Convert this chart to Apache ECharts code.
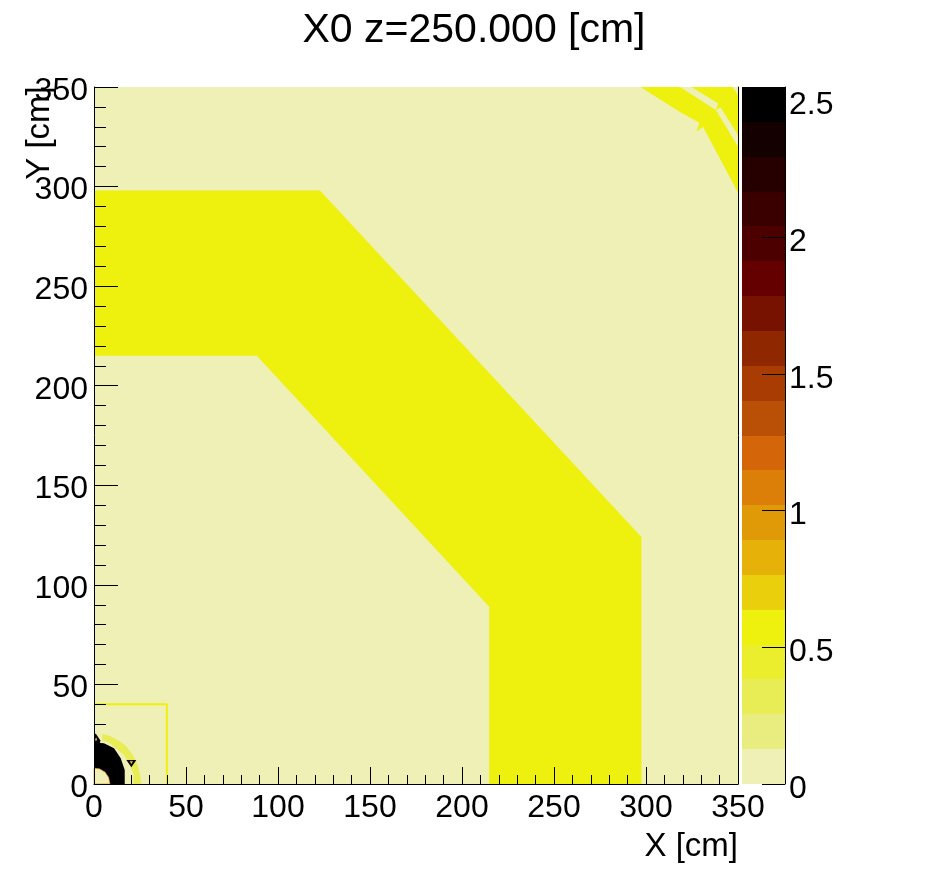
<!DOCTYPE html>
<html>
<head>
<meta charset="utf-8">
<style>html,body{margin:0;padding:0;background:#fff}#c{width:946px;height:872px}</style>
<script src="https://cdn.jsdelivr.net/npm/echarts@6/dist/echarts.min.js"></script>
</head>
<body>
<div id="c"></div>
<script>
var titleText = 'X0 z=250.000 [cm]';
var xTitle = 'X [cm]';
var yTitle = 'Y [cm]';
var paletteTicks = [0, 0.5, 1, 1.5, 2, 2.5];
var paletteEdges = [0, 0.1275, 0.255, 0.3825, 0.51, 0.6375, 0.765, 0.8925, 1.02, 1.1475, 1.275, 1.4025, 1.53, 1.6575, 1.785, 1.9125, 2.04, 2.1675, 2.295, 2.4225, 2.55];
var paletteColors = ['#EEF0B5', '#E9ED80', '#E8EC55', '#EBEE2C', '#EEF00E', '#EAD00C', '#E6B20A', '#E09A08', '#DB7F08', '#D46508', '#BA5006', '#A93C02', '#8F2800', '#771200', '#640000', '#4D0000', '#3A0000', '#260000', '#150000', '#000000'];

var background = [[0,0],[350,0],[350,350],[0,350]];
var mainBand = [[0,298],[122.8,298],[297.5,124],[297.5,0],[214.8,0],[214.8,89],[88.5,215],[0,215]];
var cornerBand = [[297,350],[318.5,337.5],[329,332],[327.5,327.5],[331,330],[350,297],[350,350]];
var cornerGapA = [[318.5,350],[324.8,350],[339.3,341.7],[337.9,338.4]];
var cornerGapB = [[338,338.4],[340.6,339.7],[350,325.8],[350,320]];
var cornerGapC = [[347,350],[350,350],[350,346]];
var ringYellow = [[4.5,25.2],[9,24],[13,22],[17,19.5],[20.8,15],[23.5,10],[25,5],[25.7,0],[21.4,0],[21.4,5.4],[19,10.4],[16.3,14.6],[8,21],[4.5,22]];
var coreBlack = [[0,0],[16.7,0],[16.7,7],[14.5,12.9],[10.9,17.9],[5.4,20.4],[0,20.8]];
var coreHole = [[0,0],[8.7,0],[8,3.3],[6,6],[3,7.6],[0,8]];
var blobBlack = [[0,20.6],[3.3,20.6],[3.4,22],[1,25.2],[0,25.2]];
var blobHole = [[0.5,22],[1.6,22],[1.2,23.2]];
var triBlack = [[17.6,12.1],[23,12.1],[20.3,8.4]];
var triHole = [[19.6,11.4],[21,11.4],[20.3,10.2]];
var squareLine = [[0,40],[39.6,40],[39.6,0]];

var regions = [
  {pts: background, level: 0},
  {pts: mainBand, level: 4},
  {pts: cornerBand, level: 4},
  {pts: cornerGapA, level: 0},
  {pts: cornerGapB, level: 0},
  {pts: cornerGapC, level: 0},
  {pts: ringYellow, level: 2},
  {pts: coreBlack, level: 19},
  {pts: coreHole, level: 0, rim: 8},
  {pts: blobBlack, level: 19},
  {pts: blobHole, level: 0, rim: 8},
  {pts: triBlack, level: 19},
  {pts: triHole, level: 0, rim: 8}
];

var FONT = '"Liberation Sans", Arial, sans-serif';
var chart = echarts.init(document.getElementById('c'), null, {renderer: 'canvas'});

function axisBase(extra) {
  return Object.assign({
    type: 'value', min: 0, max: 350, interval: 50, z: 10,
    splitLine: {show: false},
    axisLine: {show: true, onZero: false, lineStyle: {color: '#000', width: 1}}
  }, extra);
}

chart.setOption({
  animation: false,
  backgroundColor: '#fff',
  title: {
    text: titleText, left: 469, top: 5, textAlign: 'center',
    textStyle: {color: '#000', fontFamily: FONT, fontSize: 41, fontWeight: 'normal'}
  },
  graphic: [{
    type: 'text', x: 40, y: 133, rotation: Math.PI / 2, z: 20, silent: true,
    style: {text: yTitle, fill: '#000', font: '33px ' + FONT, align: 'center', verticalAlign: 'middle'}
  }],
  grid: [
    {left: 94, top: 87, width: 644, height: 697, containLabel: false, outerBoundsMode: 'none'},
    {left: 742, top: 87, width: 43, height: 697, containLabel: false, outerBoundsMode: 'none'}
  ],
  xAxis: [
    axisBase({
      gridIndex: 0, name: xTitle, nameLocation: 'end', nameGap: 0,
      nameTextStyle: {color: '#000', fontFamily: FONT, fontSize: 33, align: 'right', verticalAlign: 'top', padding: [46, 0, 0, 0]},
      axisTick: {show: true, inside: true, length: 17, lineStyle: {color: '#000', width: 1}},
      minorTick: {show: true, splitNumber: 5, length: 9, lineStyle: {color: '#000', width: 1}},
      axisLabel: {color: '#000', fontFamily: FONT, fontSize: 32, margin: 8}
    }),
    {gridIndex: 1, type: 'value', min: 0, max: 1, show: false}
  ],
  yAxis: [
    axisBase({
      gridIndex: 0,
      axisTick: {show: true, inside: true, length: 24, lineStyle: {color: '#000', width: 1}},
      minorTick: {show: true, splitNumber: 5, length: 12, lineStyle: {color: '#000', width: 1}},
      axisLabel: {color: '#000', fontFamily: FONT, fontSize: 32, margin: 6, verticalAlign: 'top', lineHeight: 8}
    }),
    {gridIndex: 0, type: 'value', min: 0, max: 350, position: 'right', z: 10,
     axisLine: {show: true, onZero: false, lineStyle: {color: '#000', width: 1}},
     axisTick: {show: false}, axisLabel: {show: false}, splitLine: {show: false}},
    {gridIndex: 1, type: 'value', min: 0, max: 2.55, position: 'right', z: 10,
     splitLine: {show: false},
     axisLine: {show: true, onZero: false, lineStyle: {color: '#000', width: 1}},
     axisTick: {show: true, inside: true, length: 23, customValues: paletteTicks, lineStyle: {color: '#000', width: 1}},
     axisLabel: {show: true, customValues: paletteTicks, color: '#000', fontFamily: FONT, fontSize: 32, margin: 4, verticalAlign: 'top', lineHeight: 10,
       formatter: function (v) { return String(v); }}}
  ],
  series: [
    {
      type: 'custom', xAxisIndex: 0, yAxisIndex: 0, z: 2, silent: true,
      data: regions.map(function (r, i) { return [r.pts[0][0], r.pts[0][1], i]; }),
      encode: {x: 0, y: 1},
      renderItem: function (params, api) {
        var r = regions[api.value(2)];
        var points = r.pts.map(function (p) { return api.coord(p); });
        return {
          type: 'polygon',
          shape: {points: points},
          style: {
            fill: paletteColors[r.level],
            stroke: r.rim !== undefined ? paletteColors[r.rim] : null,
            lineWidth: r.rim !== undefined ? 0.6 : 0
          }
        };
      }
    },
    {
      type: 'line', xAxisIndex: 0, yAxisIndex: 0, z: 3, silent: true,
      data: squareLine, showSymbol: false, symbol: 'none',
      lineStyle: {color: paletteColors[4], width: 2}
    },
    {
      type: 'custom', xAxisIndex: 1, yAxisIndex: 2, z: 2, silent: true,
      data: paletteColors.map(function (c, i) { return [0, paletteEdges[i], paletteEdges[i + 1], i]; }),
      encode: {x: 0, y: [1, 2]},
      renderItem: function (params, api) {
        var a = api.coord([0, api.value(1)]);
        var b = api.coord([1, api.value(2)]);
        var top = Math.round(b[1]);
        var bottom = Math.round(a[1]);
        return {
          type: 'rect',
          shape: {x: a[0], y: top, width: b[0] - a[0], height: bottom - top},
          style: {fill: paletteColors[api.value(3)]}
        };
      }
    }
  ]
});
</script>
</body>
</html>
